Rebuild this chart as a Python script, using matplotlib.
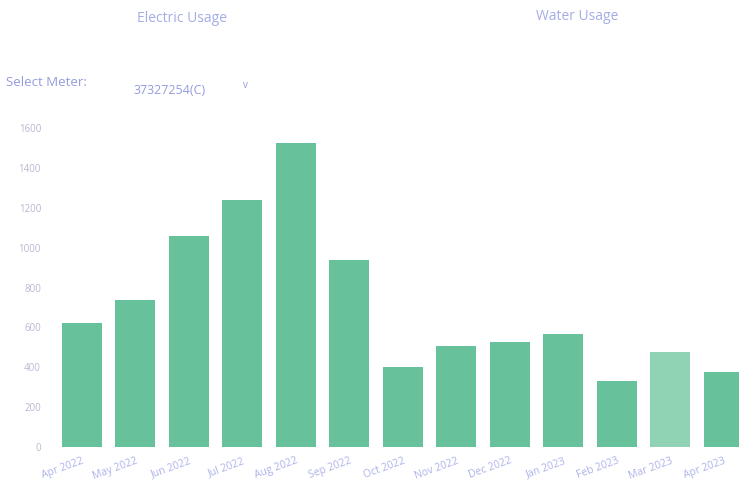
import matplotlib
matplotlib.use("Agg")
import matplotlib.pyplot as plt

months = ["Apr 2022", "May 2022", "Jun 2022", "Jul 2022", "Aug 2022", "Sep 2022",
          "Oct 2022", "Nov 2022", "Dec 2022", "Jan 2023", "Feb 2023", "Mar 2023", "Apr 2023"]
usage = [622, 737, 1058, 1239, 1525, 938, 401, 506, 527, 567, 331, 476, 376]
yticks = [0, 200, 400, 600, 800, 1000, 1200, 1400, 1600]
highlight = "Mar 2023"

plt.rcParams['font.family'] = ['Open Sans', 'DejaVu Sans']
W, H = 739, 486
fig = plt.figure(figsize=(W / 100, H / 100), dpi=100)

left_px, right_px = 55, 55 + 13 * 53.5
bottom_px, top_px = 447, 128
ax = fig.add_axes([left_px / W, 1 - bottom_px / H, (right_px - left_px) / W, (bottom_px - top_px) / H])

green = "#67c29b"
colors = ["#8fd3b4" if m == highlight else green for m in months]
ax.bar(range(len(months)), usage, width=0.75, color=colors)
ax.set_xlim(-0.5, len(months) - 0.5)
ax.set_ylim(0, 1600)
ax.set_yticks(yticks)
ax.set_yticklabels([str(v) for v in yticks], fontsize=7, color="#b8bad0")
ax.set_xticks(range(len(months)))
ax.set_xticklabels(months, rotation=20, ha="right", rotation_mode="anchor",
                   fontsize=7.5, color="#adb3ea")
ax.tick_params(axis="both", length=0, pad=10)
ax.tick_params(axis="x", pad=6)
for s in ax.spines.values():
    s.set_visible(False)

txt = "#a4ade6"
fig.text(182 / W, 1 - 18 / H, "Electric Usage", ha="center", va="center", fontsize=10, color=txt)
fig.text(577 / W, 1 - 17 / H, "Water Usage", ha="center", va="center", fontsize=10, color=txt)
fig.text(6 / W, 1 - 83 / H, "Select Meter:", ha="left", va="center", fontsize=9.5, color="#939cdf")
fig.text(133 / W, 1 - 90 / H, "37327254(C)", ha="left", va="center", fontsize=9, color="#939cdf")
fig.text(245 / W, 1 - 85 / H, "v", ha="center", va="center", fontsize=7, color="#939cdf")

fig.savefig("out.png", dpi=100)
